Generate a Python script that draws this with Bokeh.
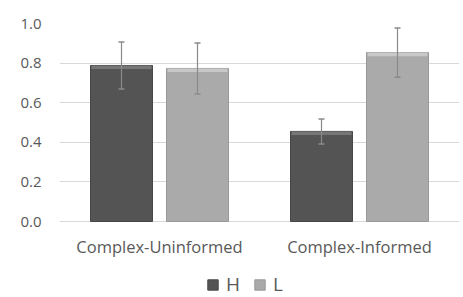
from bokeh.plotting import figure
from bokeh.models import ColumnDataSource, Legend, LegendItem, Whisker, FixedTicker, FactorRange
from bokeh.core.properties import value
from bokeh.embed import file_html
from bokeh.resources import INLINE
from bokeh.transform import dodge

categories = ["Complex-Uninformed", "Complex-Informed"]
series = ["H", "L"]
h_values = [0.788, 0.455]
l_values = [0.773, 0.853]
h_err = [0.119, 0.063]
l_err = [0.129, 0.124]
y_ticks = [0.0, 0.2, 0.4, 0.6, 0.8, 1.0]

BEVEL = 0.018

src = ColumnDataSource(dict(
    cat=categories,
    h=h_values, l=l_values,
    h_bev=[v - BEVEL for v in h_values],
    l_bev=[v - BEVEL for v in l_values],
    h_lo=[v - e for v, e in zip(h_values, h_err)],
    h_hi=[v + e for v, e in zip(h_values, h_err)],
    l_lo=[v - e for v, e in zip(l_values, l_err)],
    l_hi=[v + e for v, e in zip(l_values, l_err)],
))

# y range extends below zero so the category labels and legend fit inside the frame
p = figure(width=463, height=297, x_range=FactorRange(*categories, range_padding=0),
           y_range=(-0.3838, 1.0), output_backend="svg", toolbar_location=None,
           min_border_left=59, min_border_right=4, min_border_top=23, min_border_bottom=0)
p.outline_line_color = None
p.background_fill_color = "white"

rh = p.vbar(x=dodge("cat", -0.19, range=p.x_range), top="h", width=0.31, source=src,
            fill_color="#545454", line_color="#474747", line_width=1)
rl = p.vbar(x=dodge("cat", 0.19, range=p.x_range), top="l", width=0.31, source=src,
            fill_color="#aaaaaa", line_color="#999999", line_width=1)
# bevel highlight at bar tops
p.vbar(x=dodge("cat", -0.19, range=p.x_range), top="h", bottom="h_bev", width=0.30, source=src,
       fill_color="#767676", line_color=None)
p.vbar(x=dodge("cat", 0.19, range=p.x_range), top="l", bottom="l_bev", width=0.30, source=src,
       fill_color="#c8c8c8", line_color=None)

for xo, lo, hi in [(-0.19, "h_lo", "h_hi"), (0.19, "l_lo", "l_hi")]:
    w = Whisker(base=dodge("cat", xo, range=p.x_range), lower=lo, upper=hi, source=src,
                line_color="#8a8a8a", line_width=1.2, level="overlay")
    w.upper_head.size = 6
    w.lower_head.size = 6
    w.upper_head.line_color = "#8a8a8a"
    w.lower_head.line_color = "#8a8a8a"
    w.upper_head.line_width = 1.5
    w.lower_head.line_width = 1.5
    p.add_layout(w)

# category labels
p.text(x="cat", y=-0.126, text="cat", source=src, text_align="center", text_baseline="middle",
       text_font=value("Open Sans"), text_font_size="16.5px", text_color="#595959")

p.xaxis.visible = False
p.xgrid.grid_line_color = None
p.ygrid.grid_line_color = "#d9d9d9"
p.ygrid.grid_line_width = 1
p.yaxis.ticker = FixedTicker(ticks=y_ticks)
p.yaxis.major_label_overrides = {t: f"{t:.1f}" for t in y_ticks}

ax = p.yaxis[0]
ax.axis_line_color = None
ax.major_tick_line_color = None
ax.minor_tick_line_color = None
ax.major_label_text_color = "#595959"
ax.major_label_text_font = "Open Sans"
ax.major_label_text_font_size = "15px"
ax.major_label_standoff = 12

legend = Legend(items=[LegendItem(label=series[0], renderers=[rh]),
                       LegendItem(label=series[1], renderers=[rl])],
                orientation="horizontal", location=(147, 0),
                glyph_width=13, glyph_height=13, label_text_font="Open Sans",
                label_text_font_size="19px", label_text_color="#595959",
                border_line_color=None, background_fill_alpha=0, spacing=7,
                label_standoff=7, padding=0, margin=0)
p.add_layout(legend, "center")

open("out.html", "w").write(file_html(p, INLINE))
